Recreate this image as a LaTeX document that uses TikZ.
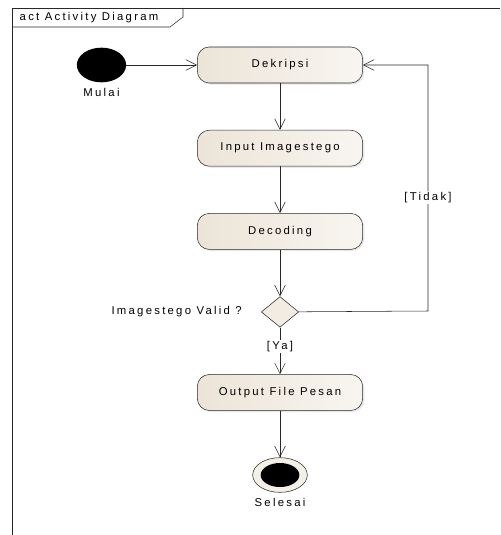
\documentclass[tikz,border=0pt]{standalone}
\usepackage{fontspec}
\newfontfamily\diagfont[LetterSpace=20]{Liberation Sans}
\usetikzlibrary{arrows.meta,positioning,shapes.geometric,shadows}
\definecolor{actfill}{RGB}{236,228,215}
\definecolor{inkgray}{RGB}{40,40,40}

\begin{document}
\begin{tikzpicture}[x=0.75pt,y=-0.75pt,
node distance=35pt and 53pt,
font=\diagfont\fontsize{8.5}{10}\selectfont,
act/.style={draw=inkgray,rounded corners=9pt,left color=actfill,right color=actfill!35!white,minimum width=124pt,minimum height=27pt,drop shadow={opacity=0.18,shadow xshift=1.2pt,shadow yshift=-1.2pt}},
decision/.style={draw=inkgray,diamond,fill=actfill!70!white,inner sep=0pt,minimum width=28pt,minimum height=23pt},
startnode/.style={ellipse,fill=black,minimum width=37pt,minimum height=26pt,inner sep=0pt},
endnode/.style={ellipse,draw=inkgray,fill=actfill!60!white,minimum width=41pt,minimum height=26pt,inner sep=0pt},
enddot/.style={ellipse,fill=black,minimum width=29pt,minimum height=18pt,inner sep=0pt},
guard/.style={fill=white,inner sep=1pt},
arr/.style={-{Straight Barb[length=8pt,width=8pt]},draw=inkgray}]
\useasboundingbox (0,0) rectangle (500,535);
% frame
\draw[inkgray] (12,535) |- (500,8);
\draw[inkgray] (12,27) -- (170,27) -- (183,17) -- (183,8);
\node[anchor=west] (frametitle) at (15,17.5) {act Activity Diagram};
% actions
\node[act] (dekripsi) at (280,65) {Dekripsi};
\node[act,below=of dekripsi] (input) {Input Imagestego};
\node[act,below=of input] (decoding) {Decoding};
\node[decision,below=of decoding] (valid) {};
\node[act,below=of valid] (output) {Output File Pesan};
\node[endnode,below=of output] (selesai) {};
\node[enddot] (selesaidot) at (selesai) {};
\node[startnode,left=of dekripsi] (mulai) {};
% labels
\node[below=1pt of mulai] (mulailbl) {Mulai};
\node[below=1pt of selesai] (selesailbl) {Selesai};
\node[left=11pt of valid] (validlbl) {Imagestego Valid ?};
\coordinate (loop) at (428,311);
% flows
\draw[arr] (mulai) -- (dekripsi);
\draw[arr] (dekripsi) -- (input);
\draw[arr] (input) -- (decoding);
\draw[arr] (decoding) -- (valid);
\draw[arr] (valid) -- (output) node[guard,pos=0.4] {[Ya]};
\draw[arr] (output) -- (selesai);
\draw[arr] (valid) -- (loop) |- (dekripsi) node[guard,pos=0.23] {[Tidak]};
\end{tikzpicture}
\end{document}
